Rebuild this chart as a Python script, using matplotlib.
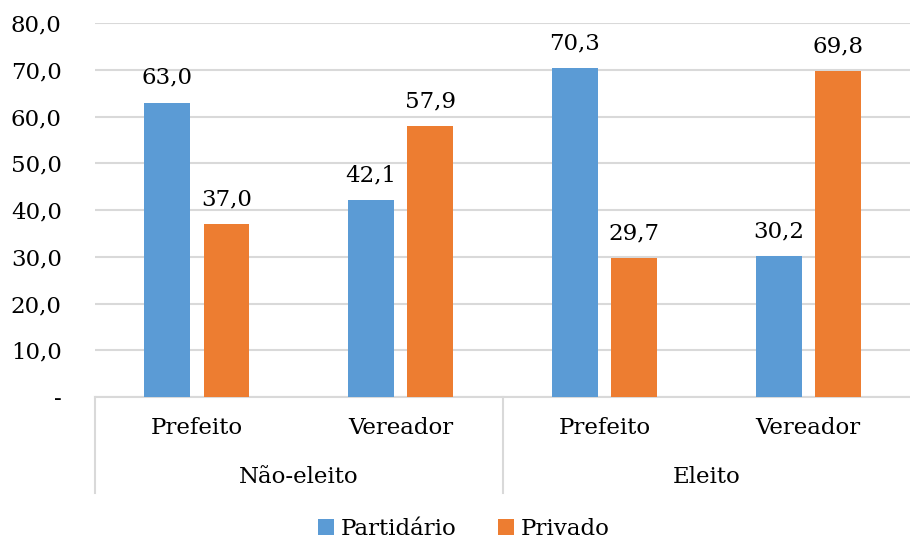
import numpy as np
import matplotlib.pyplot as plt
from matplotlib.transforms import blended_transform_factory

# Data
cargos = ['Prefeito', 'Vereador', 'Prefeito', 'Vereador']
grupos = ['Não-eleito', 'Eleito']
partidario = [63.0, 42.1, 70.3, 30.2]
privado = [37.0, 57.9, 29.7, 69.8]
series = ['Partidário', 'Privado']

azul = '#5B9BD5'
laranja = '#ED7D31'
cinza = '#D9D9D9'

plt.rcParams['font.family'] = ['DejaVu Serif']
fs = 16.5

fig = plt.figure(figsize=(9.10, 5.39), dpi=100)
ax = fig.add_axes([0.1044, 0.2635, 0.8956, 0.6935])

x = np.arange(len(cargos))
w = 0.225
off = 0.145
b1 = ax.bar(x - off, partidario, w, color=azul, label=series[0], zorder=3)
b2 = ax.bar(x + off, privado, w, color=laranja, label=series[1], zorder=3)

def fmt(v):
    return ('%.1f' % v).replace('.', ',')

for bars, vals in [(b1, partidario), (b2, privado)]:
    for r, v in zip(bars, vals):
        ax.annotate(fmt(v), (r.get_x() + r.get_width() / 2, v),
                    xytext=(0, 10), textcoords='offset points',
                    ha='center', va='bottom', fontsize=fs)

ax.set_xlim(-0.5, 3.5)
ax.set_ylim(0, 80)
ax.set_yticks(np.arange(0, 81, 10))
ax.set_yticklabels(['-' if t == 0 else fmt(t) for t in np.arange(0, 81, 10)])
ax.tick_params(axis='y', length=0, pad=24, labelsize=fs)
ax.set_xticks([])
ax.grid(axis='y', color=cinza, linewidth=1.5, zorder=0)
for s in ['top', 'right', 'left']:
    ax.spines[s].set_visible(False)
ax.spines['bottom'].set_color(cinza)
ax.spines['bottom'].set_linewidth(1.5)

# category labels (two levels)
tr = blended_transform_factory(ax.transData, ax.transAxes)
for xi, c in zip(x, cargos):
    ax.text(xi, -0.083, c, transform=tr, ha='center', va='center', fontsize=fs)
for gi, g in enumerate(grupos):
    ax.text(0.5 + 2 * gi, -0.215, g, transform=tr, ha='center', va='center', fontsize=fs)
for xs in [-0.5, 1.5]:
    ax.plot([xs, xs], [0, -0.257], transform=tr, color=cinza, linewidth=1.5, clip_on=False)

fig.legend(loc='lower center', bbox_to_anchor=(0.51, -0.04), ncol=2, frameon=False,
           fontsize=fs, handlelength=0.7, handleheight=0.7, handletextpad=0.3,
           columnspacing=1.8)

fig.savefig('out.png', dpi=100)
